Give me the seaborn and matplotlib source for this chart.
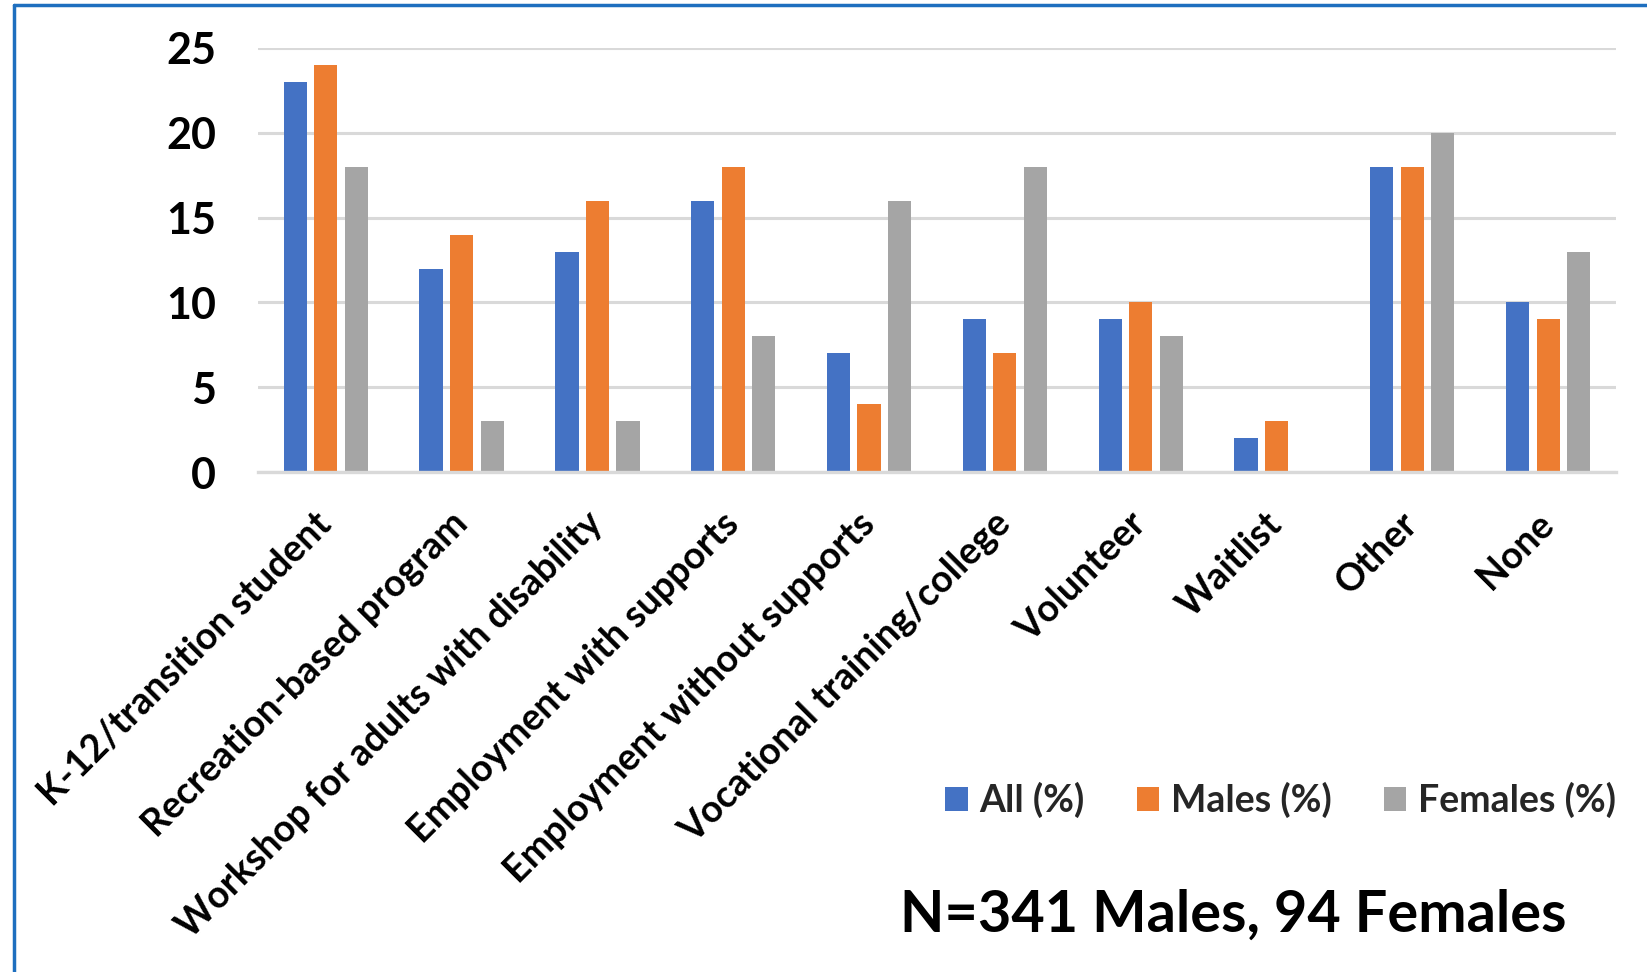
import matplotlib
matplotlib.use("Agg")
import matplotlib.pyplot as plt
from matplotlib.lines import Line2D
import pandas as pd
import seaborn as sns

# Current activity categories and percentages by group
categories = [
    "K-12/transition student",
    "Recreation-based program",
    "Workshop for adults with disability",
    "Employment with supports",
    "Employment without supports",
    "Vocational training/college",
    "Volunteer",
    "Waitlist",
    "Other",
    "None",
]
all_pct = [23, 12, 13, 16, 7, 9, 9, 2, 18, 10]
males_pct = [24, 14, 16, 18, 4, 7, 10, 3, 18, 9]
females_pct = [18, 3, 3, 8, 16, 18, 8, 0, 20, 13]
series_names = ["All (%)", "Males (%)", "Females (%)"]
series_colors = ["#4472C4", "#ED7D31", "#A5A5A5"]
y_ticks = [0, 5, 10, 15, 20, 25]
note = "N=341 Males, 94 Females"

rows = []
for name, values in zip(series_names, [all_pct, males_pct, females_pct]):
    for cat, v in zip(categories, values):
        rows.append({"category": cat, "group": name, "value": v})
df = pd.DataFrame(rows)

sns.set_theme(style="white")
plt.rcParams["font.family"] = ["Lato", "DejaVu Sans"]
plt.rcParams["font.weight"] = "bold"

fig = plt.figure(figsize=(16.47, 9.72), dpi=100)
ax = fig.add_axes([0.1566, 0.514, 0.8246, 0.437])

sns.barplot(
    data=df, x="category", y="value", hue="group",
    order=categories, hue_order=series_names,
    palette=series_colors, width=0.675, gap=0.24,
    linewidth=0, saturation=1, ax=ax, legend=True,
)

ax.set_ylim(0, 25)
ax.set_xlim(-0.5, len(categories) - 0.5)
ax.set_yticks(y_ticks)
ax.set_yticklabels([str(t) for t in y_ticks], fontsize=31, fontweight="bold")
ax.yaxis.grid(True, color="#D9D9D9", linewidth=2.2)
ax.set_axisbelow(True)
for side in ["left", "right", "top"]:
    ax.spines[side].set_visible(False)
ax.spines["bottom"].set_color("#D9D9D9")
ax.spines["bottom"].set_linewidth(2.4)
ax.tick_params(axis="y", length=0, pad=30, colors="black")
ax.tick_params(axis="x", length=0, pad=33, colors="black")
ax.set_xlabel("")
ax.set_ylabel("")
ax.set_xticks(range(len(categories)))
ax.set_xticklabels(categories, rotation=45, ha="right", va="center",
                   rotation_mode="anchor", fontsize=27, fontweight="bold")

handles, labels = ax.get_legend_handles_labels()
ax.get_legend().remove()
fig.legend(handles, labels, loc="center right", bbox_to_anchor=(0.981, 0.177),
           ncol=3, frameon=False, prop={"weight": "bold", "size": 27},
           handlelength=0.6, handleheight=0.6, handletextpad=0.3,
           columnspacing=1.4, borderpad=0, borderaxespad=0)

fig.text(0.951, 0.058, note, ha="right", va="center",
         fontsize=41.5, fontweight="bold", color="black")

# Blue frame along the top and left edges
frame_color = "#1E6FBF"
fig.add_artist(Line2D([14 / 1647, 1], [1 - 5 / 972, 1 - 5 / 972],
                      transform=fig.transFigure, color=frame_color, linewidth=2.5))
fig.add_artist(Line2D([14 / 1647, 14 / 1647], [0, 1 - 5 / 972],
                      transform=fig.transFigure, color=frame_color, linewidth=2.5))

fig.savefig("out.png", dpi=100, facecolor="white")
